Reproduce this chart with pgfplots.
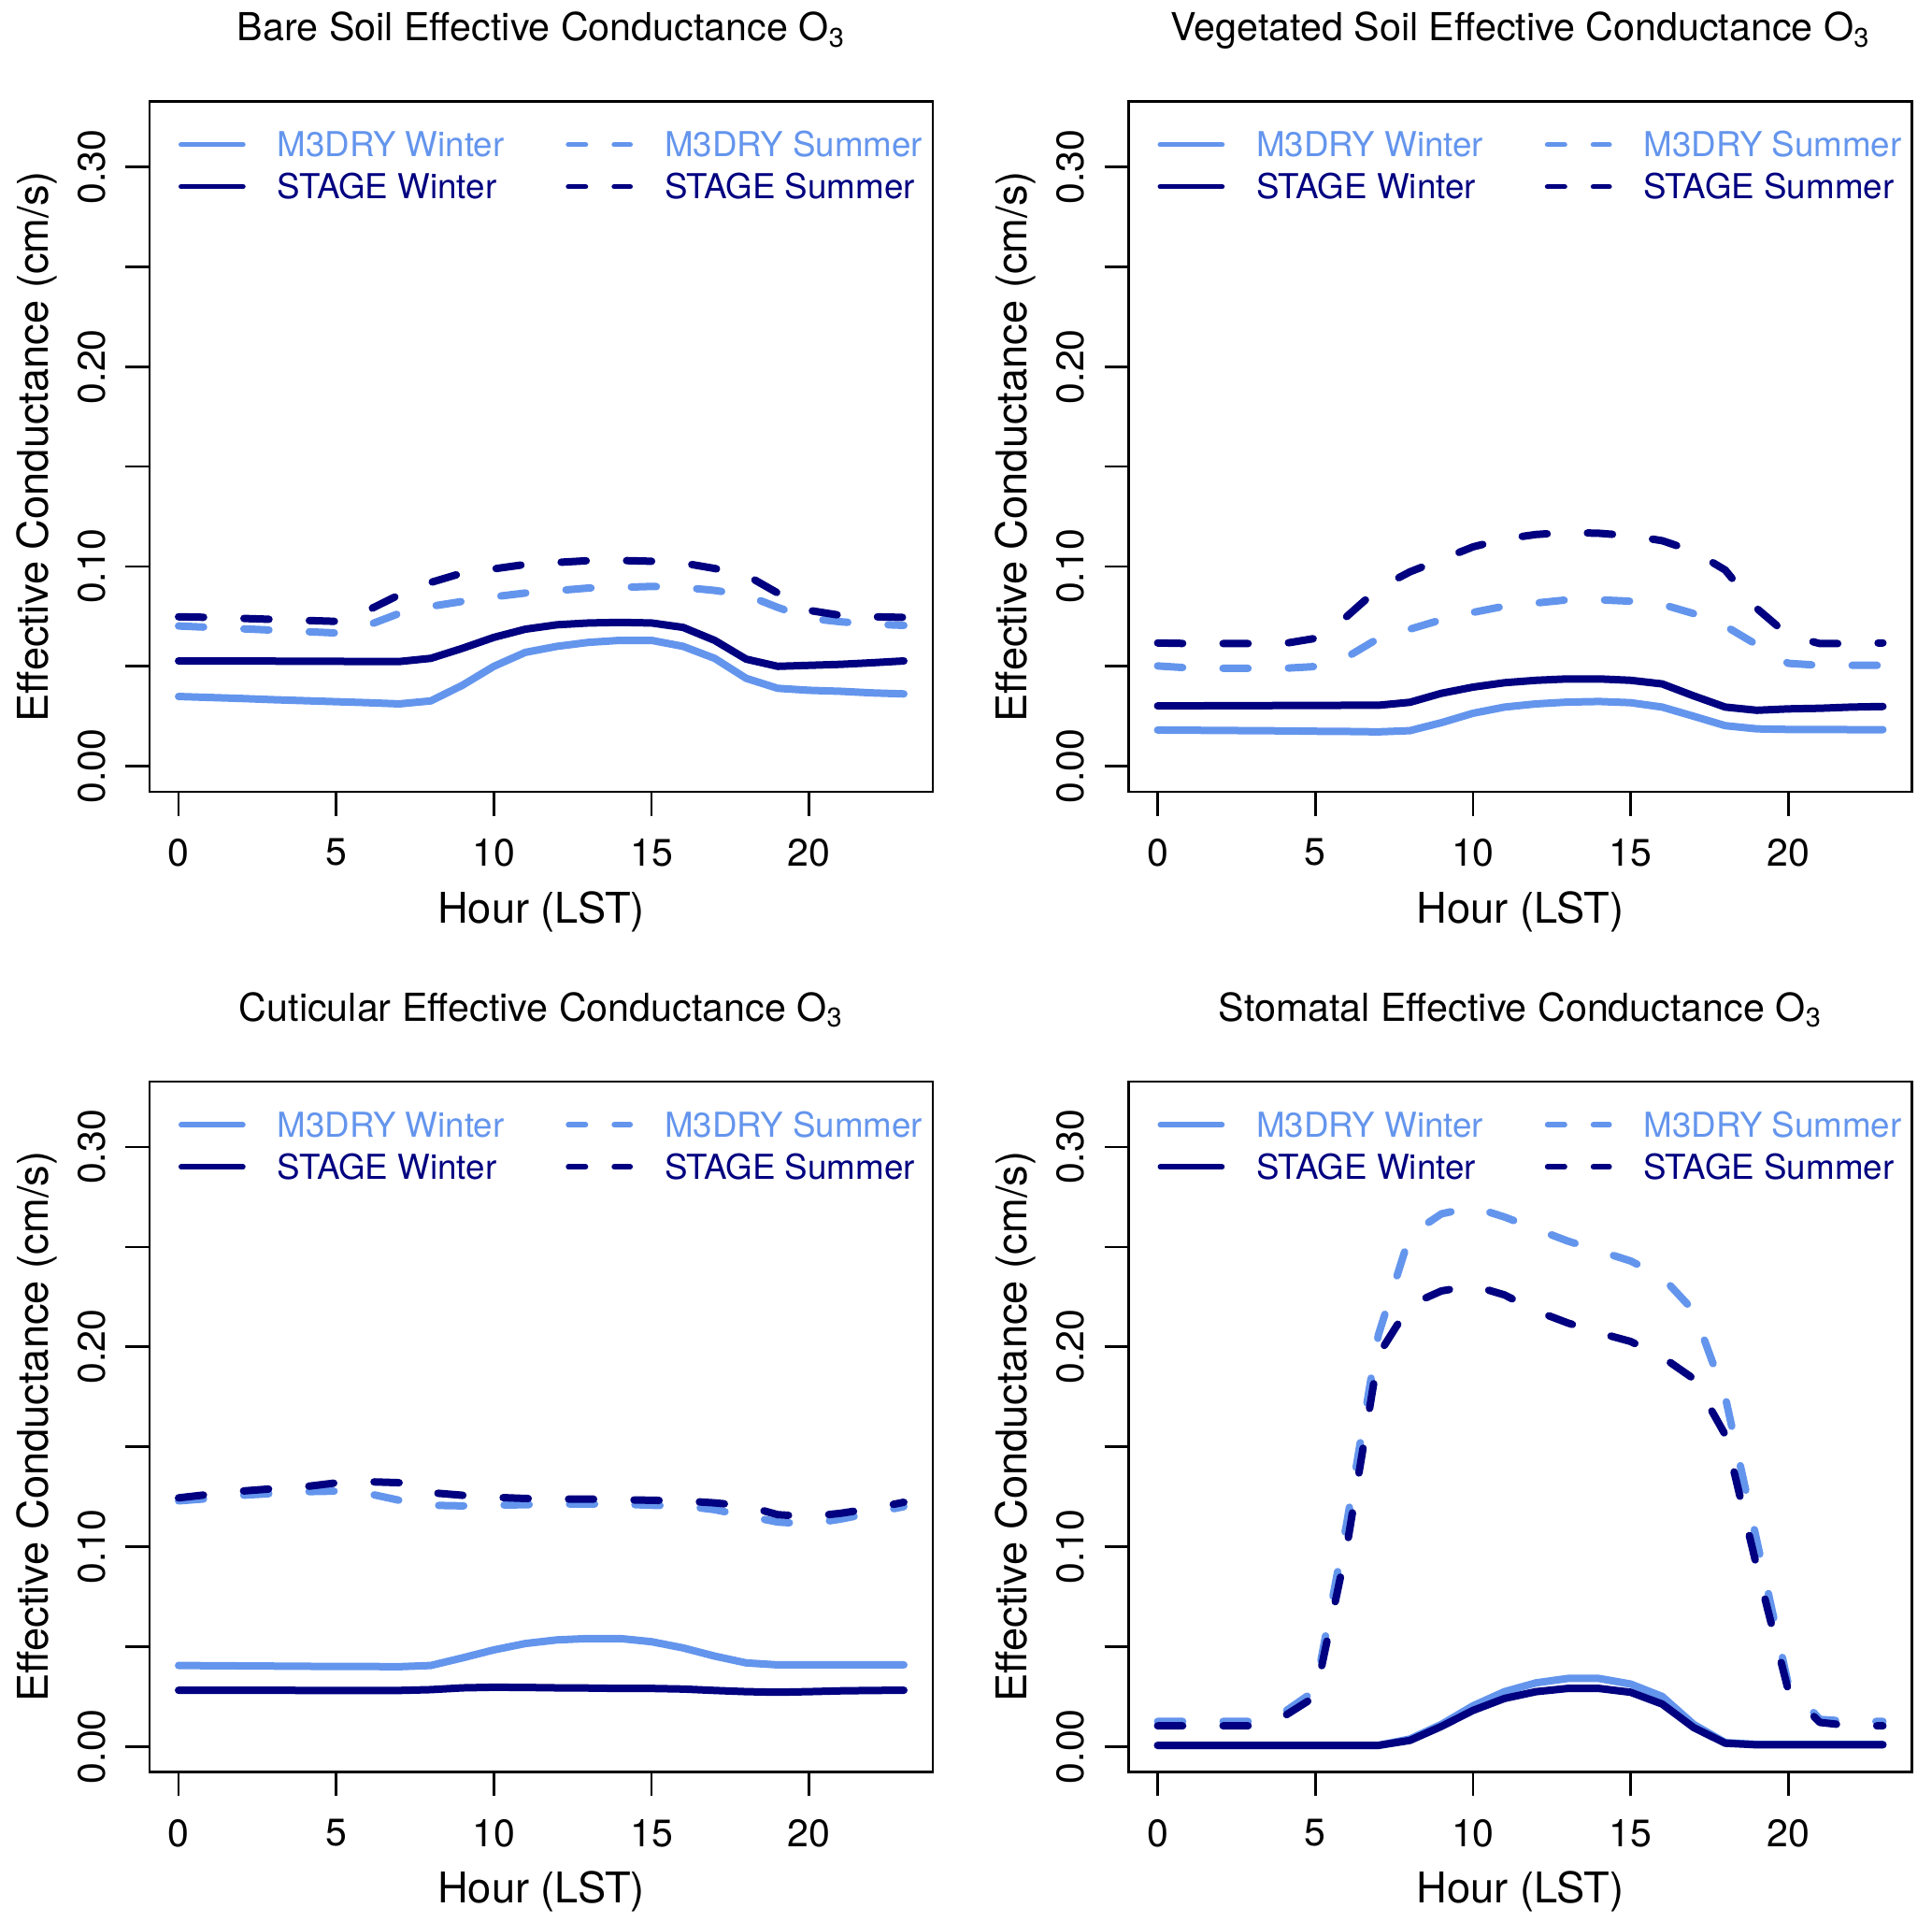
\documentclass[border=0pt]{standalone}
\usepackage{pgfplots}
\usepackage{pgfplotstable}
\pgfplotsset{compat=1.18}
\usepackage{fontspec}
\setmainfont{TeX Gyre Heros}

\definecolor{m3}{RGB}{100,149,237}
\definecolor{st}{RGB}{0,0,128}

% columns: hour, M3DRY winter, STAGE winter, M3DRY summer, STAGE summer
\pgfplotstableread{
h mw sw ms ss
0 0.0349 0.0527 0.0702 0.0748
1 0.0344 0.0527 0.0695 0.0745
2 0.0339 0.0526 0.0688 0.0740
3 0.0333 0.0526 0.0681 0.0735
4 0.0328 0.0525 0.0674 0.0730
5 0.0323 0.0525 0.0667 0.0725
6 0.0318 0.0524 0.0705 0.0780
7 0.0312 0.0524 0.0765 0.0858
8 0.0327 0.0540 0.0800 0.0920
9 0.0405 0.0590 0.0825 0.0967
10 0.0500 0.0645 0.0848 0.0988
11 0.0570 0.0686 0.0867 0.1010
12 0.0600 0.0708 0.0879 0.1020
13 0.0620 0.0717 0.0892 0.1029
14 0.0630 0.0720 0.0895 0.1030
15 0.0630 0.0717 0.0900 0.1026
16 0.0600 0.0695 0.0895 0.1017
17 0.0540 0.0630 0.0880 0.0990
18 0.0440 0.0536 0.0857 0.0957
19 0.0390 0.0500 0.0795 0.0867
20 0.0380 0.0505 0.0740 0.0780
21 0.0375 0.0510 0.0723 0.0755
22 0.0367 0.0518 0.0711 0.0748
23 0.0362 0.0527 0.0705 0.0745
}\bare

\pgfplotstableread{
h mw sw ms ss
0 0.0181 0.0302 0.0502 0.0617
1 0.0180 0.0302 0.0492 0.0614
2 0.0179 0.0303 0.0490 0.0614
3 0.0178 0.0303 0.0490 0.0614
4 0.0177 0.0304 0.0490 0.0614
5 0.0175 0.0304 0.0499 0.0640
6 0.0174 0.0305 0.0546 0.0750
7 0.0172 0.0305 0.0640 0.0890
8 0.0178 0.0320 0.0686 0.0973
9 0.0218 0.0365 0.0733 0.1035
10 0.0265 0.0396 0.0770 0.1098
11 0.0296 0.0418 0.0801 0.1138
12 0.0312 0.0430 0.0817 0.1160
13 0.0321 0.0437 0.0833 0.1170
14 0.0324 0.0437 0.0833 0.1166
15 0.0318 0.0430 0.0826 0.1154
16 0.0296 0.0412 0.0810 0.1129
17 0.0250 0.0352 0.0764 0.1076
18 0.0203 0.0296 0.0702 0.0982
19 0.0187 0.0280 0.0608 0.0790
20 0.0184 0.0287 0.0515 0.0655
21 0.0184 0.0290 0.0505 0.0614
22 0.0183 0.0296 0.0505 0.0614
23 0.0183 0.0299 0.0505 0.0617
}\veg

\pgfplotstableread{
h mw sw ms ss
0 0.0405 0.0281 0.1229 0.1244
1 0.0404 0.0281 0.1241 0.1262
2 0.0403 0.0281 0.1257 0.1278
3 0.0402 0.0281 0.1266 0.1290
4 0.0401 0.0280 0.1275 0.1300
5 0.0400 0.0280 0.1278 0.1319
6 0.0400 0.0280 0.1266 0.1325
7 0.0399 0.0280 0.1232 0.1320
8 0.0405 0.0284 0.1207 0.1270
9 0.0443 0.0293 0.1204 0.1257
10 0.0483 0.0296 0.1207 0.1247
11 0.0515 0.0295 0.1210 0.1241
12 0.0533 0.0293 0.1213 0.1238
13 0.0540 0.0292 0.1213 0.1238
14 0.0540 0.0290 0.1213 0.1235
15 0.0524 0.0290 0.1207 0.1232
16 0.0493 0.0287 0.1204 0.1229
17 0.0452 0.0280 0.1185 0.1219
18 0.0418 0.0274 0.1154 0.1204
19 0.0408 0.0271 0.1123 0.1160
20 0.0408 0.0274 0.1113 0.1150
21 0.0408 0.0278 0.1138 0.1167
22 0.0408 0.0280 0.1169 0.1191
23 0.0408 0.0281 0.1200 0.1222
}\cut

\pgfplotstableread{
h mw sw ms ss
0 0.0005 0.0005 0.0125 0.0103
1 0.0005 0.0005 0.0125 0.0103
2 0.0005 0.0005 0.0125 0.0103
3 0.0005 0.0005 0.0125 0.0103
4 0.0005 0.0005 0.0170 0.0150
5 0.0005 0.0005 0.0280 0.0250
6 0.0005 0.0005 0.1120 0.1000
7 0.0005 0.0005 0.2060 0.1960
8 0.0037 0.0030 0.2560 0.2210
9 0.0110 0.0100 0.2666 0.2280
10 0.0203 0.0180 0.2700 0.2307
11 0.0274 0.0240 0.2650 0.2260
12 0.0318 0.0274 0.2590 0.2180
13 0.0340 0.0290 0.2530 0.2120
14 0.0340 0.0290 0.2480 0.2070
15 0.0312 0.0271 0.2430 0.2027
16 0.0250 0.0212 0.2350 0.1950
17 0.0110 0.0094 0.2180 0.1840
18 0.0019 0.0016 0.1750 0.1560
19 0.0010 0.0008 0.1030 0.0900
20 0.0010 0.0008 0.0310 0.0280
21 0.0010 0.0008 0.0135 0.0120
22 0.0010 0.0008 0.0125 0.0103
23 0.0010 0.0008 0.0125 0.0103
}\stom

\pgfplotsset{
  panel/.style={
    scale only axis, width=335.2bp, height=295.4bp,
    anchor=south west,
    xmin=-0.92, xmax=23.92, ymin=-0.0128, ymax=0.3328,
    axis line style={line width=1.1bp},
    xtick={0,5,10,15,20},
    ytick={0,0.05,0.1,0.15,0.2,0.25,0.3},
    yticklabels={0.00,,0.10,,0.20,,0.30},
    xtick pos=lower, ytick pos=left,
    tick align=outside, major tick length=10.4bp,
    tick style={line width=1.1bp, black},
    /pgf/number format/assume math mode=true,
    ticklabel style={font=\fontsize{16.4bp}{19bp}\selectfont},
    xticklabel style={anchor=north, inner xsep=0pt, inner ysep=9.6bp},
    yticklabel style={rotate=90, anchor=south, inner xsep=0pt, inner ysep=8.3bp},
    xlabel={Hour (LST)},
    ylabel={Effective Conductance (cm/s)},
    label style={font=\fontsize{18.1bp}{21bp}\selectfont, inner sep=0pt},
    xlabel style={at={(axis description cs:0.5,-0.190)}, anchor=base},
    ylabel style={at={(axis description cs:-0.1296,0.5)}, anchor=base},
    every axis title/.style={at={(axis description cs:0.5,1.0876)}, anchor=base,
      inner sep=0pt, font=\fontsize{16.5bp}{20bp}\selectfont},
    legend columns=2,
    legend cell align=left,
    legend image code/.code={\draw[##1] (0bp,0bp) -- (26.5bp,0bp);},
    legend style={draw=none, fill=none, inner sep=0pt, outer sep=0pt,
      at={(axis description cs:0,1)}, anchor=north west,
      xshift=12.4bp, yshift=-13.2bp,
      font=\fontsize{14.7bp}{17bp}\selectfont,
      nodes={inner sep=0pt, text height=10.6bp, text depth=0pt},
      row sep=7.4bp,
      /tikz/every odd column/.style={column sep=13.6bp},
      /tikz/every even column/.style={column sep=26.3bp}},
  },
  base/.style={line width=3.2bp, line cap=round, line join=round},
  mw/.style={base, m3, solid, legend image post style={line width=2.2bp}},
  sw/.style={base, st, solid, legend image post style={line width=2.2bp}},
  ms/.style={base, m3, dash pattern=on 10.7bp off 17.3bp,
    legend image post style={line width=2.2bp, dash pattern=on 7.4bp off 12.2bp}},
  ss/.style={base, st, dash pattern=on 10.7bp off 17.3bp,
    legend image post style={line width=2.2bp, dash pattern=on 7.4bp off 12.2bp}},
}

\newcommand{\fourlines}[1]{%
  \addplot[mw] table[x=h, y=mw] {#1};
  \addlegendentry{\textcolor{m3}{M3DRY Winter}}
  \addplot[ms] table[x=h, y=ms] {#1};
  \addlegendentry{\textcolor{m3}{M3DRY Summer}}
  \addplot[sw] table[x=h, y=sw] {#1};
  \addlegendentry{\textcolor{st}{STAGE Winter}}
  \addplot[ss] table[x=h, y=ss] {#1};
  \addlegendentry{\textcolor{st}{STAGE Summer}}
}

\begin{document}
\begin{tikzpicture}
\useasboundingbox (0,0) rectangle (826.8bp,822.4bp);

\begin{axis}[panel, at={(64bp,483.6bp)},
  title={Bare Soil Effective Conductance O\textsubscript{3}}]
\fourlines{\bare}
\end{axis}

\begin{axis}[panel, at={(483bp,483.6bp)},
  title={Vegetated Soil Effective Conductance O\textsubscript{3}}]
\fourlines{\veg}
\end{axis}

\begin{axis}[panel, at={(64bp,64.2bp)},
  title={Cuticular Effective Conductance O\textsubscript{3}}]
\fourlines{\cut}
\end{axis}

\begin{axis}[panel, at={(483bp,64.2bp)},
  title={Stomatal Effective Conductance O\textsubscript{3}}]
\fourlines{\stom}
\end{axis}
\end{tikzpicture}
\end{document}
